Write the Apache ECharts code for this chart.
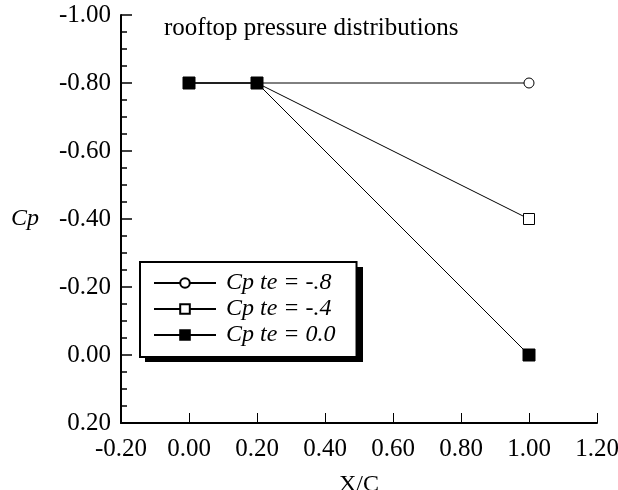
<!DOCTYPE html>
<html><head><meta charset="utf-8">
<script src="https://cdn.jsdelivr.net/npm/echarts@6/dist/echarts.min.js"></script>
<style>html,body{margin:0;padding:0;background:#fff;overflow:hidden}#c{width:618px;height:490px}</style>
</head><body><div id="c"></div>
<script>
const xValues = [0.0, 0.2, 1.0];
const cpTeM08 = [-0.8, -0.8, -0.8];
const cpTeM04 = [-0.8, -0.8, -0.4];
const cpTe00 = [-0.8, -0.8, 0.0];
const seriesNames = ['Cp te = -.8', 'Cp te = -.4', 'Cp te = 0.0'];
const titleText = 'rooftop pressure distributions';

const F = 'Liberation Serif, Times New Roman, serif';
function pts(ys){ return xValues.map((x,i)=>[x, ys[i]]); }
const chart = echarts.init(document.getElementById('c'), null, {renderer:'canvas', width:618, height:490});
chart.setOption({
  animation:false,
  backgroundColor:'#fff',
  title:{text:titleText, left:159, top:11, textStyle:{fontFamily:F, fontSize:25, fontWeight:'normal', color:'#000'}},
  grid:{left:121, top:15, width:476, height:408, containLabel:false, outerBoundsMode:'none'},
  graphic:[{type:'rect', left:145, top:267, shape:{width:218, height:95}, style:{fill:'#000'}, z:0, zlevel:0}],
  xAxis:{type:'value', min:-0.2, max:1.2, interval:0.2,
    name:'X/C', nameLocation:'middle', nameGap:50,
    nameTextStyle:{fontFamily:F, fontSize:24, color:'#000'},
    axisLine:{onZero:false, lineStyle:{color:'#000', width:2}},
    axisTick:{inside:true, length:10, lineStyle:{color:'#000', width:1}},
    axisLabel:{fontFamily:F, fontSize:25, color:'#000', margin:14, formatter:v=>v.toFixed(2)},
    splitLine:{show:false}},
  yAxis:{type:'value', min:-1.0, max:0.2, interval:0.2, inverse:true,
    name:'Cp', nameLocation:'middle', nameRotate:0, nameGap:110,
    nameTextStyle:{fontFamily:F, fontSize:24, fontStyle:'italic', color:'#000', align:'left', padding:[0,0,12,0]},
    axisLine:{onZero:false, lineStyle:{color:'#000', width:2}},
    axisTick:{inside:true, length:11, lineStyle:{color:'#000', width:1.5}},
    minorTick:{show:true, splitNumber:4, length:6, lineStyle:{color:'#000', width:1.5}},
    axisLabel:{fontFamily:F, fontSize:25, color:'#000', margin:10, formatter:v=>v.toFixed(2)},
    splitLine:{show:false}},
  legend:{left:140, top:262, orient:'vertical', itemWidth:62, itemHeight:12, itemGap:2,
    padding:[9,21,10,13], z:5,
    backgroundColor:'#fff', borderColor:'#000', borderWidth:2,
    textStyle:{fontFamily:F, fontSize:24, lineHeight:24, fontStyle:'italic', color:'#000', padding:[0,0,0,5]},
    data:seriesNames},
  series:[
    {name:seriesNames[0], type:'line', data:pts(cpTeM08), symbol:'circle', symbolSize:10,
     itemStyle:{color:'#fff', borderColor:'#000', borderWidth:1}, lineStyle:{color:'#000', width:1}},
    {name:seriesNames[1], type:'line', data:pts(cpTeM04), symbol:'rect', symbolSize:11,
     itemStyle:{color:'#fff', borderColor:'#000', borderWidth:1}, lineStyle:{color:'#000', width:1}},
    {name:seriesNames[2], type:'line', data:pts(cpTe00), symbol:'rect', symbolSize:12,
     itemStyle:{color:'#000', borderColor:'#000', borderWidth:1}, lineStyle:{color:'#000', width:1}}
  ]
});
</script></body></html>
